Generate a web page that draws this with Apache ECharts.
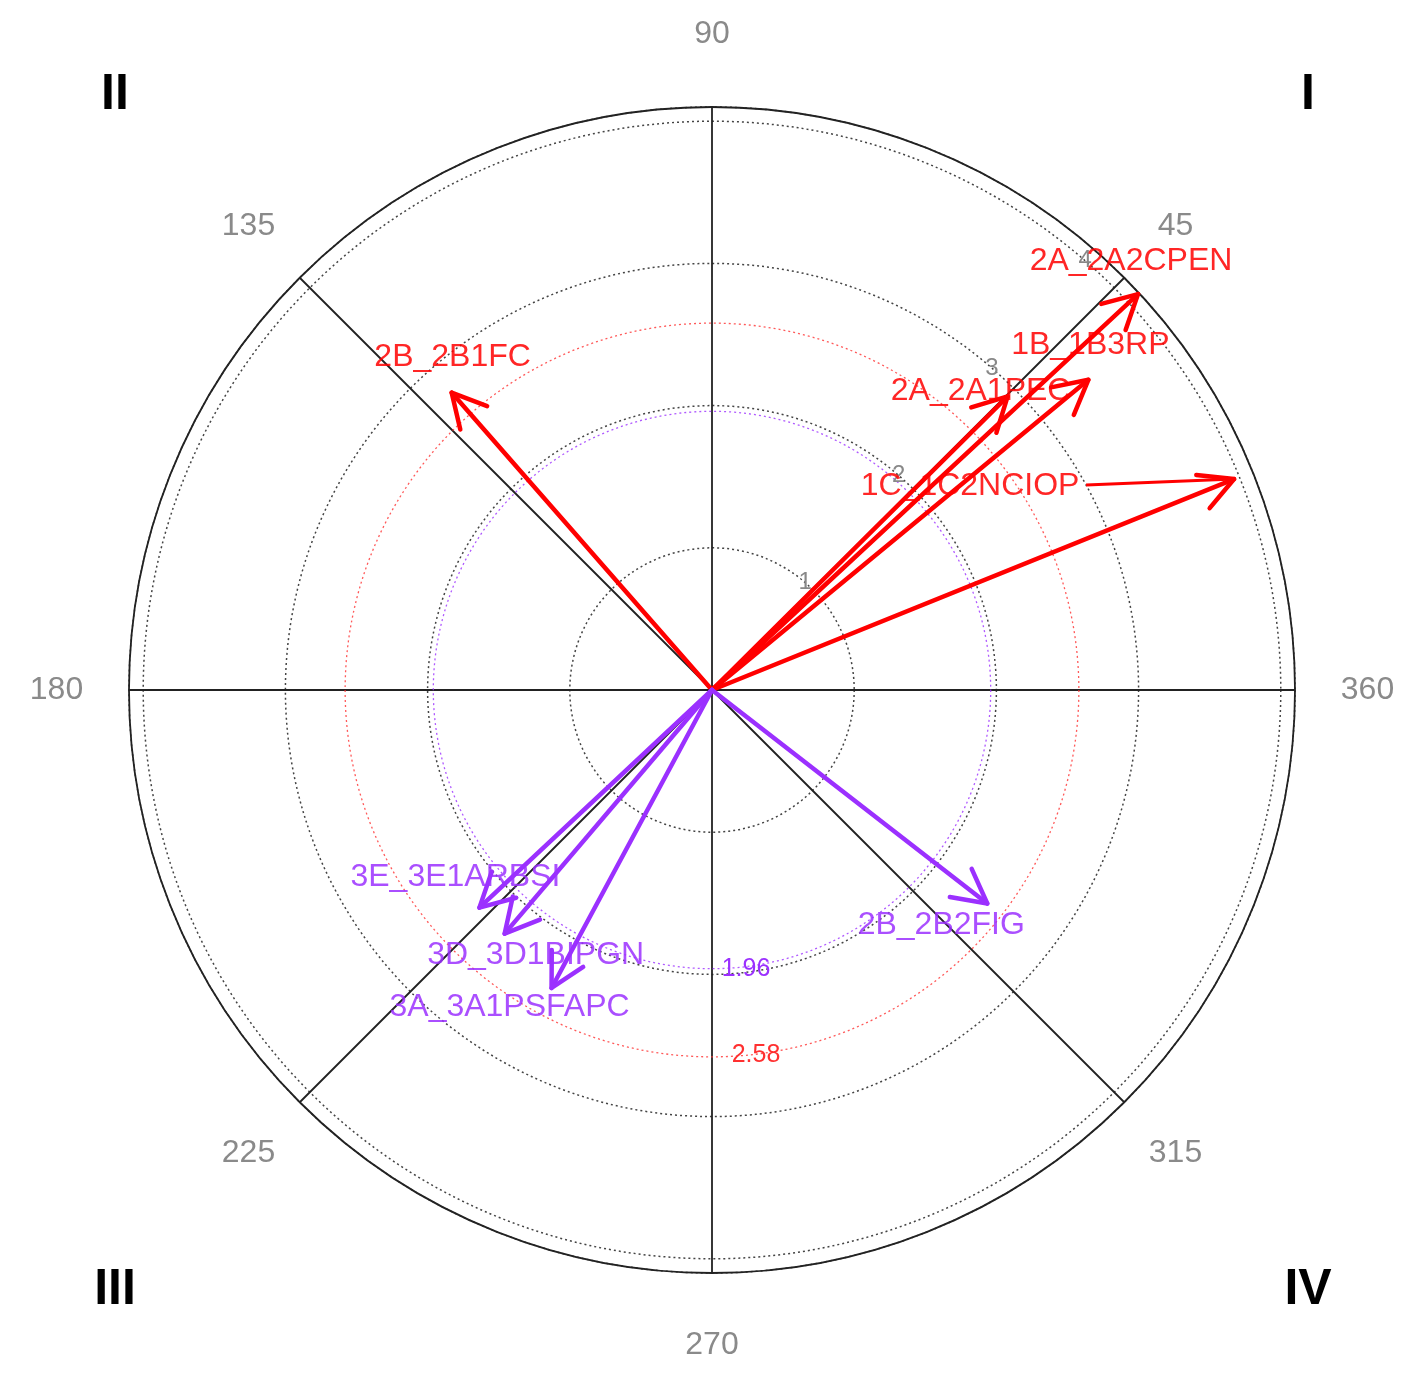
<!DOCTYPE html>
<html><head><meta charset="utf-8">
<script src="https://cdn.jsdelivr.net/npm/echarts@6/dist/echarts.min.js"></script>
<style>html,body{margin:0;padding:0;background:#fff}#c{width:1418px;height:1383px}</style>
</head><body><div id="c"></div>
<script>
// ---- data ----
const arrowNames  = ['2B_2B1FC','2A_2A2CPEN','1B_1B3RP','2A_2A1PEC','1C_1C2NCIOP','2B_2B2FIG','3E_3E1ARBSI','3D_3D1BIPGN','3A_3A1PSFAPC'];
const arrowRadius = [2.78, 4.09, 3.43, 2.93, 3.96, 2.45, 2.24, 2.25, 2.38];
const arrowAngle  = [131.2, 42.9, 39.5, 44.8, 22.0, 322.2, 223.1, 229.6, 241.7];
const arrowGroup  = ['pos','pos','pos','pos','pos','neg','neg','neg','neg'];
const angleTicks  = [45, 90, 135, 180, 225, 270, 315, 360];
const ringTicks   = [1, 2, 3, 4];
const sigLevels   = [1.96, 2.58];
const quadrantNames = ['I', 'II', 'III', 'IV'];

// ---- styles / label placement (pixels) ----
const groupColor = { pos: '#ff0000', neg: '#9b30ff' };
const sigColor = ['#9b30ff', '#ff3030'];
const labelOffset = [[1,-35],[-7,-33],[2,-35],[-27,-5],[-264,7],[-46,22],[-24,-30],[31,22],[-42,19]];
const leaderStart = { 4: [-148, 6] };
const sigLabelOffset = [[34,0],[44,-2]];
const quadPos = [[1308,95],[115,95],[115,1290],[1308,1290]];
const FONT = '"Liberation Sans", Arial, sans-serif';

const chart = echarts.init(document.getElementById('c'), null, {renderer: 'canvas'});

function arrowItem(params, api) {
  const i = params.dataIndex;
  const r = api.value(0), a = api.value(1);
  const tip = api.coord([r, a]);
  const c = api.coord([0, a]);
  const dx = tip[0] - c[0], dy = tip[1] - c[1];
  const len = Math.hypot(dx, dy);
  const ux = dx / len, uy = dy / len;
  const L = 38, h = 28 * Math.PI / 180;
  const rot = ang => [ux * Math.cos(ang) - uy * Math.sin(ang), ux * Math.sin(ang) + uy * Math.cos(ang)];
  const r1 = rot(h), r2 = rot(-h);
  const w1 = [tip[0] - L * r1[0], tip[1] - L * r1[1]];
  const w2 = [tip[0] - L * r2[0], tip[1] - L * r2[1]];
  const col = groupColor[arrowGroup[i]];
  const ls = { stroke: col, lineWidth: 4.5, lineCap: 'round', lineJoin: 'round', fill: null };
  const children = [
    { type: 'line', shape: { x1: c[0], y1: c[1], x2: tip[0], y2: tip[1] }, style: ls },
    { type: 'polyline', shape: { points: [w1, tip, w2] }, style: ls },
    { type: 'text', z2: 5, style: { text: api.value(2), x: tip[0] + labelOffset[i][0], y: tip[1] + labelOffset[i][1],
        fill: col, font: '32px ' + FONT, align: 'center', verticalAlign: 'middle', opacity: 0.85 } }
  ];
  if (leaderStart[i]) {
    children.push({ type: 'line', shape: { x1: tip[0] + leaderStart[i][0], y1: tip[1] + leaderStart[i][1], x2: tip[0], y2: tip[1] },
      style: { stroke: col, lineWidth: 3 } });
  }
  return { type: 'group', children };
}

function angleLabelItem(params, api) {
  const p = api.coord([api.value(0), api.value(1)]);
  return { type: 'text', style: { text: String(api.value(1)), x: p[0], y: p[1], fill: '#8a8a8a',
    font: '32px ' + FONT, align: 'center', verticalAlign: 'middle' } };
}

function ringLabelItem(params, api) {
  const p = api.coord([api.value(0), api.value(1)]);
  return { type: 'text', style: { text: String(api.value(0)), x: p[0], y: p[1], fill: '#888',
    font: '24px ' + FONT, align: 'center', verticalAlign: 'middle' } };
}

function sigRingItem(params, api) {
  const i = params.dataIndex;
  const c = api.coord([0, 0]);
  const p = api.coord([api.value(0), 270]);
  const rad = Math.hypot(p[0] - c[0], p[1] - c[1]);
  return { type: 'group', children: [
    { type: 'circle', shape: { cx: c[0], cy: c[1], r: rad },
      style: { fill: null, stroke: sigColor[i], lineWidth: 1.3, lineDash: [2, 3], opacity: 0.8 } },
    { type: 'text', style: { text: String(api.value(0)), x: p[0] + sigLabelOffset[i][0], y: p[1] + sigLabelOffset[i][1],
      fill: sigColor[i], font: '25px ' + FONT, align: 'center', verticalAlign: 'middle' } }
  ]};
}

const option = {
  backgroundColor: '#fff',
  animation: false,
  polar: { center: [712, 690], radius: [0, 583] },
  angleAxis: {
    type: 'value', min: 0, max: 360, interval: 45, startAngle: 0, clockwise: false,
    axisLine: { show: true, lineStyle: { color: '#222', width: 1.8 } },
    axisTick: { show: false }, axisLabel: { show: false },
    splitLine: { show: true, lineStyle: { color: '#222', width: 1.8 } }
  },
  radiusAxis: {
    type: 'value', min: 0, max: 4.1, interval: 1,
    axisLine: { show: false }, axisTick: { show: false }, axisLabel: { show: false },
    splitLine: { show: true, lineStyle: { color: '#444', width: 1.5, type: [2, 3] } }
  },
  graphic: quadrantNames.map((q, i) => ({
    type: 'text', x: quadPos[i][0], y: quadPos[i][1],
    style: { text: q, font: 'bold 50px ' + FONT, fill: '#000', align: 'center', verticalAlign: 'middle' }
  })),
  series: [
    { type: 'custom', coordinateSystem: 'polar', renderItem: sigRingItem, encode: { radius: 0, angle: 1 },
      data: sigLevels.map(v => [v, 270]), z: 2 },
    { type: 'custom', coordinateSystem: 'polar', renderItem: ringLabelItem, encode: { radius: 0, angle: 1 },
      data: ringTicks.map(v => [v, 49]), z: 3 },
    { type: 'custom', coordinateSystem: 'polar', renderItem: angleLabelItem, encode: { radius: 0, angle: 1 },
      data: angleTicks.map(v => [4.61, v]), z: 3 },
    { type: 'custom', coordinateSystem: 'polar', renderItem: arrowItem, encode: { radius: 0, angle: 1 },
      data: arrowNames.map((n, i) => [arrowRadius[i], arrowAngle[i], n]), z: 10 }
  ]
};
chart.setOption(option);
</script>
</body></html>
